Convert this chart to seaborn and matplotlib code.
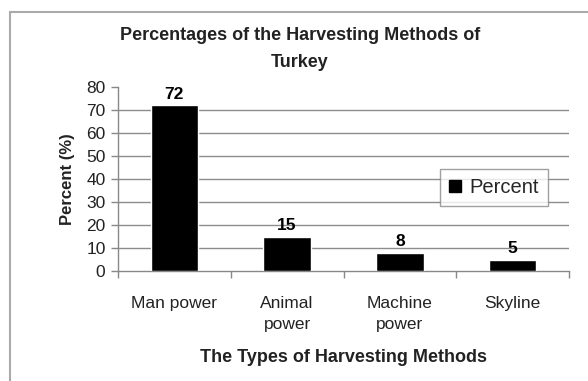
import matplotlib
matplotlib.use("Agg")
import matplotlib.pyplot as plt
import matplotlib.patches as mpatches
import seaborn as sns
import pandas as pd

methods = ["Man power", "Animal\npower", "Machine\npower", "Skyline"]
percent = [72, 15, 8, 5]
y_ticks = [0, 10, 20, 30, 40, 50, 60, 70, 80]

sns.set_theme(style="white")
plt.rcParams["font.family"] = ["Liberation Sans", "DejaVu Sans"]

df = pd.DataFrame({"method": methods, "percent": percent})

fig = plt.figure(figsize=(5.88, 3.81), dpi=100)
W, H = 588, 381
ax = fig.add_axes([118 / W, 1 - 271 / H, (569 - 118) / W, (271 - 87) / H])

sns.barplot(data=df, x="method", y="percent", color="black", width=0.42,
            saturation=1, ax=ax, label="Percent", zorder=3)

ax.set_ylim(0, 80)
ax.set_xlim(-0.5, len(methods) - 0.5)
ax.set_yticks(y_ticks)
for v in y_ticks[1:-1]:
    ax.axhline(v, color="#8c8c8c", lw=1.0, zorder=1)

for i, v in enumerate(percent):
    ax.text(i, v + 1.5, str(v), ha="center", va="bottom",
            fontsize=12.5, fontweight="bold", color="black")

# category boundaries carry the x tick marks
ax.set_xticks([i - 0.5 for i in range(len(methods) + 1)], minor=False)
ax.set_xticklabels([])
ax.set_xticks(range(len(methods)), minor=True)
ax.set_xticklabels(methods, minor=True, fontsize=12.5, color="#222222", linespacing=1.5)
ax.tick_params(axis="x", which="minor", length=0, pad=18)
ax.tick_params(axis="x", which="major", length=5, width=1, color="#888888", direction="out", bottom=True)
ax.tick_params(axis="y", length=5, width=1, color="#888888", direction="out", left=True,
               labelsize=12.5, labelcolor="#222222", pad=4)

for s in ["top", "right"]:
    ax.spines[s].set_visible(False)
for s in ["left", "bottom"]:
    ax.spines[s].set_color("#888888")
    ax.spines[s].set_linewidth(1.0)

ax.set_xlabel("The Types of Harvesting Methods", fontsize=13, fontweight="bold",
              color="#222222", labelpad=12)
ax.set_ylabel("Percent (%)", fontsize=12, fontweight="bold", color="#222222", labelpad=8)

fig.text(300 / W, 1 - 49 / H, "Percentages of the Harvesting Methods of\nTurkey",
         ha="center", va="center", fontsize=13, fontweight="bold",
         color="#222222", linespacing=1.7)

leg = ax.legend(handles=[mpatches.Patch(color="black", label="Percent")],
                loc="upper left", bbox_to_anchor=((440 - 118) / (569 - 118), (271 - 169) / (271 - 87)),
                fontsize=14.5, frameon=True, fancybox=False, handlelength=0.6,
                handleheight=0.6, handletextpad=0.4, borderpad=0.45, borderaxespad=0)
leg.get_frame().set_edgecolor("#888888")
leg.get_frame().set_linewidth(1.0)

# outer chart frame
fig.add_artist(plt.Line2D([10 / W, 10 / W], [0, 1 - 12 / H], color="#aaaaaa", lw=1.5,
                          transform=fig.transFigure))
fig.add_artist(plt.Line2D([10 / W, 1], [1 - 12 / H, 1 - 12 / H], color="#aaaaaa", lw=1.5,
                          transform=fig.transFigure))

fig.savefig("out.png", dpi=100)
